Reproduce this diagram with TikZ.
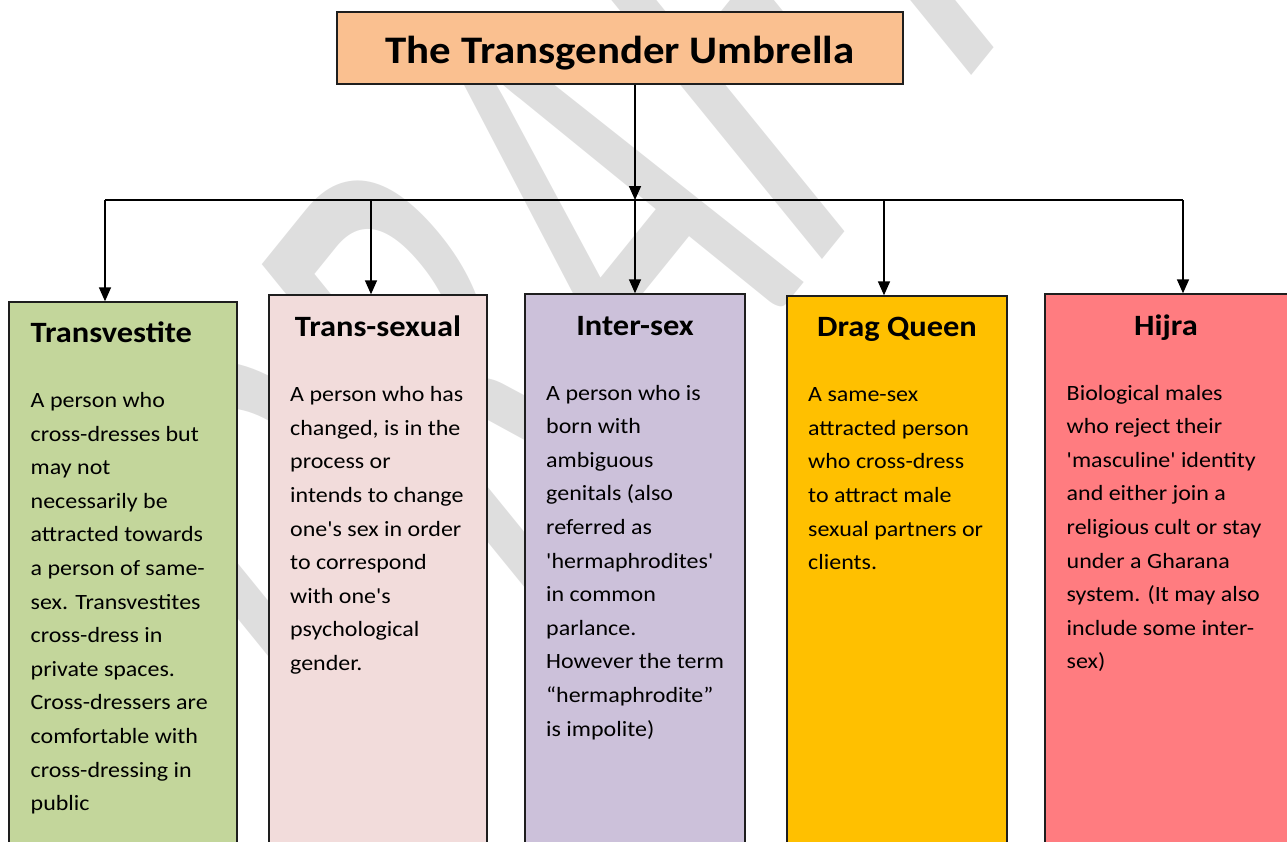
\documentclass[tikz,border=0pt]{standalone}
\usepackage{fontspec}
\usepackage{graphicx}
\setmainfont{Carlito}[Ligatures=TeXOff]
\usetikzlibrary{arrows.meta}
\definecolor{titlefill}{RGB}{250,192,144}
\definecolor{greenfill}{RGB}{195,214,155}
\definecolor{pinkfill}{RGB}{242,220,219}
\definecolor{lavfill}{RGB}{204,193,218}
\definecolor{goldfill}{RGB}{255,192,0}
\definecolor{redfill}{RGB}{255,124,128}
\definecolor{wmgray}{RGB}{222,222,222}
\definecolor{edgegray}{RGB}{30,30,30}
\newcommand\hwide[1]{\scalebox{1.1}[1]{#1}}
\newcommand\bodylines[1]{\hwide{\begin{tabular}[t]{@{}l@{}}#1\end{tabular}}}
\tikzset{
  catbox/.style={draw=edgegray, line width=1.4pt, rectangle, inner sep=0pt},
  headtxt/.style={font=\fontsize{29.5}{32}\selectfont\bfseries, inner sep=0pt},
  bodytxt/.style={font=\fontsize{21.8}{33.6}\selectfont, inner sep=0pt, anchor=base west},
  arr/.style={line width=1.6pt, -{Triangle[width=12pt,length=14pt]}},
  plainline/.style={line width=1.6pt}
}
\begin{document}
\begin{tikzpicture}[x=1pt,y=-1pt]
\useasboundingbox (0,0) rectangle (1287,841);
\clip (0,0) rectangle (1287,841);
% watermark
\begin{scope}[cm={2.516,3.112,-4.354,5.354,(368,822)}]
\node[transform shape, anchor=base west, inner sep=0pt, text=wmgray,
      font=\fontsize{100}{100}\selectfont] (wm) at (0,0) {DRAFT};
\end{scope}
% title
\node[catbox, fill=titlefill, minimum width=566pt, minimum height=72pt] (title) at (620,48) {};
\node[inner sep=0pt, anchor=base, font=\fontsize{39}{40}\selectfont\bfseries] (titletxt) at (620,63.3) {\hwide{The Transgender Umbrella}};
% category boxes
\node[catbox, fill=greenfill, minimum width=228pt, minimum height=558pt] (b1) at (123,581) {};
\node[catbox, fill=pinkfill, minimum width=218pt, minimum height=565pt] (b2) at (378,577.5) {};
\node[catbox, fill=lavfill, minimum width=220pt, minimum height=566pt] (b3) at (635,577) {};
\node[catbox, fill=goldfill, minimum width=220pt, minimum height=564pt] (b4) at (897,578) {};
\node[catbox, fill=redfill, minimum width=255pt, minimum height=566pt] (b5) at (1172.5,577) {};
% headings
\node[headtxt, anchor=base west] (h1) at (30.5,342.5) {\hwide{Transvestite}};
\node[headtxt, anchor=base] (h2) at (378,336.7) {\hwide{Trans-sexual}};
\node[headtxt, anchor=base] (h3) at (635,335) {\hwide{Inter-sex}};
\node[headtxt, anchor=base] (h4) at (897,336.7) {\hwide{Drag Queen}};
\node[headtxt, anchor=base] (h5) at (1166,335) {\hwide{Hijra}};
% bodies
\node[bodytxt] (t1) at (30.5,407.5) {\bodylines{A person who\\cross-dresses but\\may not\\necessarily be\\attracted towards\\a person of same-\\sex. Transvestites\\cross-dress in\\private spaces.\\Cross-dressers are\\comfortable with\\cross-dressing in\\public}};
\node[bodytxt] (t2) at (290,401.7) {\bodylines{A person who has\\changed, is in the\\process or\\intends to change\\one's sex in order\\to correspond\\with one's\\psychological\\gender.}};
\node[bodytxt] (t3) at (546,400) {\bodylines{A person who is\\born with\\ambiguous\\genitals (also\\referred as\\'hermaphrodites'\\in common\\parlance.\\However the term\\“hermaphrodite”\\is impolite)}};
\node[bodytxt] (t4) at (808,401.7) {\bodylines{A same-sex\\attracted person\\who cross-dress\\to attract male\\sexual partners or\\clients.}};
\node[bodytxt] (t5) at (1066.5,400) {\bodylines{Biological males\\who reject their\\'masculine' identity\\and either join a\\religious cult or stay\\under a Gharana\\system. (It may also\\include some inter-\\sex)}};
% connectors
\coordinate (hub) at (635,200);
\coordinate (j1) at (105,200);
\coordinate (j2) at (371,200);
\coordinate (j4) at (884,200);
\coordinate (j5) at (1183,200);
\draw[arr] (title.south -| hub) -- (hub);
\draw[plainline] (j1) -- (j5);
\draw[arr] (j1) -- (j1 |- b1.north);
\draw[arr] (j2) -- (j2 |- b2.north);
\draw[arr] (hub) -- (hub |- b3.north);
\draw[arr] (j4) -- (j4 |- b4.north);
\draw[arr] (j5) -- (j5 |- b5.north);
\end{tikzpicture}
\end{document}
